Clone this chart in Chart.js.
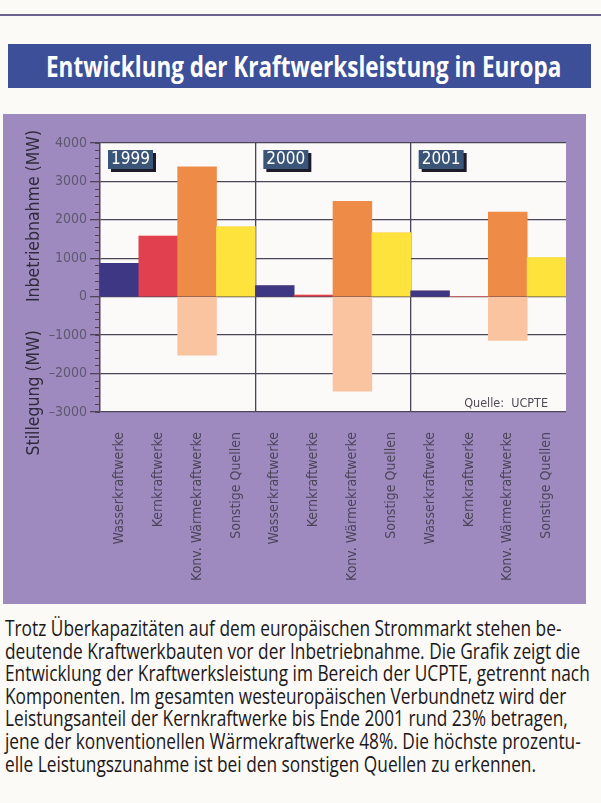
<!DOCTYPE html>
<html>
<head>
<meta charset="utf-8">
<script src="https://cdn.jsdelivr.net/npm/chart.js@4.4.0/dist/chart.umd.min.js"></script>
<style>
    body { margin: 0; width: 601px; height: 803px; overflow: hidden; position: relative; background: #fbfaf7;
           font-family: 'Open Sans', sans-serif; }
    #rule { position: absolute; left: 0; top: 14px; width: 601px; height: 2px; background: #6d6390; }
    #title { position: absolute; left: 8px; top: 44px; width: 583px; height: 44px; background: #3c4f98; overflow: hidden; }
    #title span { position: absolute; left: 38px; top: 0; color: #fff; font-weight: bold; font-size: 29px;
                  line-height: 44px; white-space: nowrap; transform-origin: left center; }
    #panel { position: absolute; left: 3px; top: 114px; width: 583px; height: 490px; background: #9f8abf; }
    #text { position: absolute; left: 5px; top: 617px; font-size: 22.5px; line-height: 22.6px; color: #1c1819;
            white-space: nowrap; transform-origin: left top; }
</style>
</head>
<body>
<div id="rule"></div>
<div id="title"><span>Entwicklung der Kraftwerksleistung in Europa</span></div>
<div id="panel"><canvas id="chart" width="583" height="490"></canvas></div>
<div id="text">
<div>Trotz Überkapazitäten auf dem europäischen Strommarkt stehen be-</div>
<div>deutende Kraftwerkbauten vor der Inbetriebnahme. Die Grafik zeigt die</div>
<div id="longest"><span>Entwicklung der Kraftwerksleistung im Bereich der UCPTE, getrennt nach</span></div>
<div>Komponenten. Im gesamten westeuropäischen Verbundnetz wird der</div>
<div>Leistungsanteil der Kernkraftwerke bis Ende 2001 rund 23% betragen,</div>
<div>jene der konventionellen Wärmekraftwerke 48%. Die höchste prozentu-</div>
<div>elle Leistungszunahme ist bei den sonstigen Quellen zu erkennen.</div>
</div>
<script>
const years = ['1999', '2000', '2001'];
const kinds = ['Wasserkraftwerke', 'Kernkraftwerke', 'Konv. Wärmekraftwerke', 'Sonstige Quellen'];

// Inbetriebnahme (MW) per year, order as in kinds
const inbetrieb1999 = [870, 1580, 3380, 1820];
const inbetrieb2000 = [290, 40, 2480, 1660];
const inbetrieb2001 = [150, 0, 2200, 1020];

// Stillegung (MW)
const stillegung1999 = [0, 0, -1520, 0];
const stillegung2000 = [0, 0, -2460, 0];
const stillegung2001 = [0, 0, -1140, 0];

const yTicks = [-3000, -2000, -1000, 0, 1000, 2000, 3000, 4000];

const kindColors = ['#3d3784', '#e1414f', '#ee8b46', '#fde33c'];
const stillColor = '#fbc4a1';
const gridCol = '#4b4558';
const font = "'DejaVu Sans Condensed', 'DejaVu Sans', sans-serif";

const labels = years.flatMap(() => kinds);
const inbetrieb = [...inbetrieb1999, ...inbetrieb2000, ...inbetrieb2001];
const stillegung = [...stillegung1999, ...stillegung2000, ...stillegung2001];

// squeeze the html text to the narrow print widths
const titleSpan = document.querySelector('#title span');
titleSpan.style.transform = `scaleX(${515 / titleSpan.offsetWidth})`;
const longest = document.querySelector('#longest span');
document.getElementById('text').style.transform = `scaleX(${585 / longest.offsetWidth})`;

Chart.defaults.font.family = font;

// white plot background
const areaBg = {
    id: 'areaBg',
    beforeDraw(chart) {
        const { ctx, chartArea: a } = chart;
        ctx.save();
        ctx.fillStyle = '#fbfaf8';
        ctx.fillRect(a.left, a.top, a.right - a.left, a.bottom - a.top);
        ctx.restore();
    }
};

// year boxes, side titles and source note
const extras = {
    id: 'extras',
    afterDatasetsDraw(chart) {
        const { ctx, chartArea: a } = chart;
        const x = chart.scales.x;
        const y = chart.scales.y;
        const band = x.getPixelForValue(1) - x.getPixelForValue(0);
        ctx.save();
        years.forEach((yr, i) => {
            const left = x.getPixelForValue(i * 4) - band / 2 + 8;
            const top = a.top + 7;
            ctx.fillStyle = '#1d1b2a';
            ctx.fillRect(left + 3, top + 3, 45, 19);
            ctx.fillStyle = '#3a5577';
            ctx.fillRect(left, top, 45, 19);
            ctx.fillStyle = '#ffffff';
            ctx.font = '17px ' + font;
            ctx.textBaseline = 'middle';
            ctx.textAlign = 'left';
            ctx.fillText(yr, left + 3, top + 10);
        });

        ctx.fillStyle = '#2f2a3c';
        ctx.font = '17.5px ' + font;
        ctx.textAlign = 'center';
        ctx.textBaseline = 'middle';
        [['Inbetriebnahme (MW)', 2100], ['Stillegung (MW)', -2500]].forEach(([t, v]) => {
            ctx.save();
            ctx.translate(31, y.getPixelForValue(v));
            ctx.rotate(-Math.PI / 2);
            ctx.fillText(t, 0, 0);
            ctx.restore();
        });

        ctx.fillStyle = '#4f4a55';
        ctx.font = '12.5px ' + font;
        ctx.textAlign = 'right';
        ctx.fillText('Quelle:  UCPTE', a.right - 18, a.bottom - 8);
        ctx.restore();
    }
};

new Chart(document.getElementById('chart'), {
    type: 'bar',
    data: {
        labels,
        datasets: [{
            label: 'Inbetriebnahme',
            data: inbetrieb,
            backgroundColor: labels.map((_, i) => kindColors[i % 4]),
            stack: 's'
        }, {
            label: 'Stillegung',
            data: stillegung,
            backgroundColor: stillColor,
            stack: 's'
        }]
    },
    options: {
        responsive: false,
        animation: false,
        layout: { padding: { top: 29, right: 20, left: 0, bottom: 0 } },
        datasets: { bar: { categoryPercentage: 1, barPercentage: 1 } },
        plugins: { legend: { display: false }, tooltip: { enabled: false } },
        scales: {
            x: {
                stacked: true,
                offset: true,
                grid: {
                    offset: true,
                    drawTicks: false,
                    lineWidth: 1.3,
                    color: ctx => ctx.index % 4 === 0 ? gridCol : 'rgba(0,0,0,0)'
                },
                border: { display: false },
                ticks: { autoSkip: false, minRotation: 90, maxRotation: 90, padding: 20, color: '#4a4458', font: { size: 14 } },
                afterFit: s => { s.height = 192; }
            },
            y: {
                stacked: true,
                min: -3000,
                max: 4000,
                weight: 1,
                afterBuildTicks: s => { s.ticks = yTicks.map(v => ({ value: v })); },
                ticks: { padding: 3, color: '#5e5870', font: { size: 14 },
                         callback: v => (v < 0 ? '\u2013' : '') + Math.abs(v) },
                grid: { color: gridCol, lineWidth: 1.3, tickLength: 10 },
                border: { color: gridCol, width: 1.3 },
                afterFit: s => { s.width = 97; }
            },
            y2: {
                position: 'left',
                min: -3000,
                max: 4000,
                weight: 0,
                ticks: { stepSize: 200, display: false },
                grid: { drawOnChartArea: false, tickLength: 5, color: gridCol, lineWidth: 1 },
                border: { display: false },
                afterFit: s => { s.width = 0; }
            }
        }
    },
    plugins: [areaBg, extras]
});
</script>
</body>
</html>
